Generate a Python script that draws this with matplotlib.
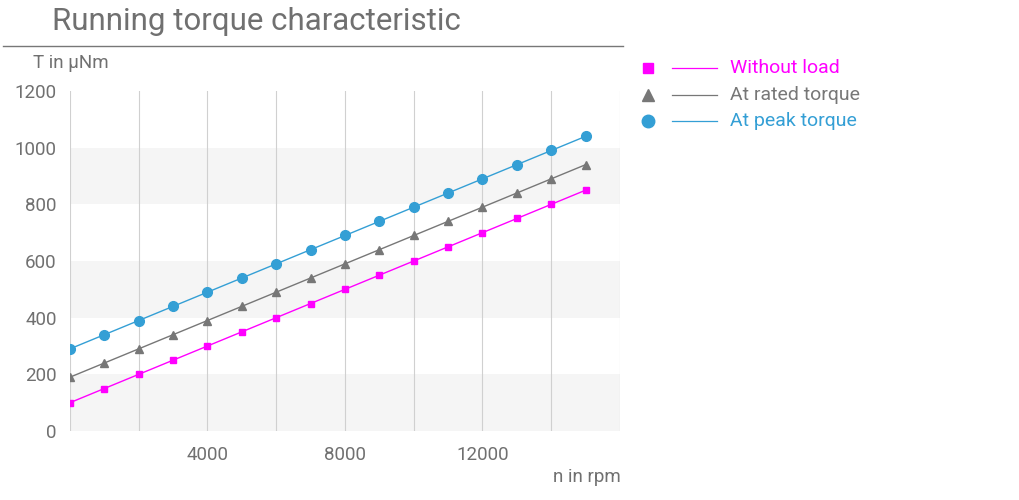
import matplotlib.pyplot as plt
from matplotlib.lines import Line2D

speed = [0, 1000, 2000, 3000, 4000, 5000, 6000, 7000, 8000, 9000,
         10000, 11000, 12000, 13000, 14000, 15000]
without_load = [100, 150, 200, 250, 300, 350, 400, 450, 500, 550,
                600, 650, 700, 750, 800, 850]
rated_torque = [190, 240, 290, 340, 390, 440, 490, 540, 590, 640,
                690, 740, 790, 840, 890, 940]
peak_torque = [290, 340, 390, 440, 490, 540, 590, 640, 690, 740,
               790, 840, 890, 940, 990, 1040]
series_names = ["Without load", "At rated torque", "At peak torque"]

MAGENTA = "#ff00ff"
GREY = "#777777"
BLUE = "#349fd5"
TEXT = "#707070"

plt.rcParams["font.family"] = ["Roboto", "DejaVu Sans"]

fig = plt.figure(figsize=(10.2, 5), dpi=100)
ax = fig.add_axes([70 / 1020, 69 / 500, 550 / 1020, 340 / 500])

ax.set_xlim(0, 16000)
ax.set_ylim(0, 1200)

for lo in (0, 400, 800):
    ax.axhspan(lo, lo + 200, color="#f5f5f5", zorder=0, lw=0)
for x in range(0, 16001, 2000):
    ax.axvline(x, color="#d0d0d0", lw=0.8, zorder=1)

ax.plot(speed, without_load, color=MAGENTA, lw=1, marker="s", ms=5, zorder=3)
ax.plot(speed, rated_torque, color=GREY, lw=1, marker="^", ms=6, zorder=3)
ax.plot(speed, peak_torque, color=BLUE, lw=1, marker="o", ms=7, zorder=3)

for s in ax.spines.values():
    s.set_visible(False)
ax.set_xticks([4000, 8000, 12000])
ax.set_yticks(range(0, 1201, 200))
ax.tick_params(length=0, labelsize=13.5, labelcolor=TEXT, pad=11)
ax.tick_params(axis="y", pad=9.5)

fig.text(52 / 1020, 1 - 21 / 500, "Running torque characteristic", fontsize=22.5,
         color=TEXT, va="center", ha="left")
fig.add_artist(Line2D([3 / 1020, 623 / 1020], [1 - 46 / 500, 1 - 46 / 500],
                      color="#777777", lw=1))
fig.text(33 / 1020, 1 - 63 / 500, "T in µNm", fontsize=13.5, color=TEXT,
         va="center", ha="left")
fig.text(621 / 1020, 1 - 477 / 500, "n in rpm", fontsize=13.5, color=TEXT,
         va="center", ha="right")

# legend drawn by hand: marker, then a separate line, then coloured text
leg_y = [68, 95, 121]
leg_style = [(MAGENTA, "s", 7), (GREY, "^", 8), (BLUE, "o", 9)]
for name, yy, (col, mk, ms) in zip(series_names, leg_y, leg_style):
    fy = 1 - yy / 500
    fig.add_artist(Line2D([648 / 1020], [fy], color=col, marker=mk, ms=ms, lw=0))
    fig.add_artist(Line2D([672 / 1020, 717 / 1020], [fy, fy], color=col, lw=0.9))
    fig.text(730 / 1020, fy, name, fontsize=14, color=col, va="center",
             ha="left")

fig.savefig("out.png", dpi=100)
